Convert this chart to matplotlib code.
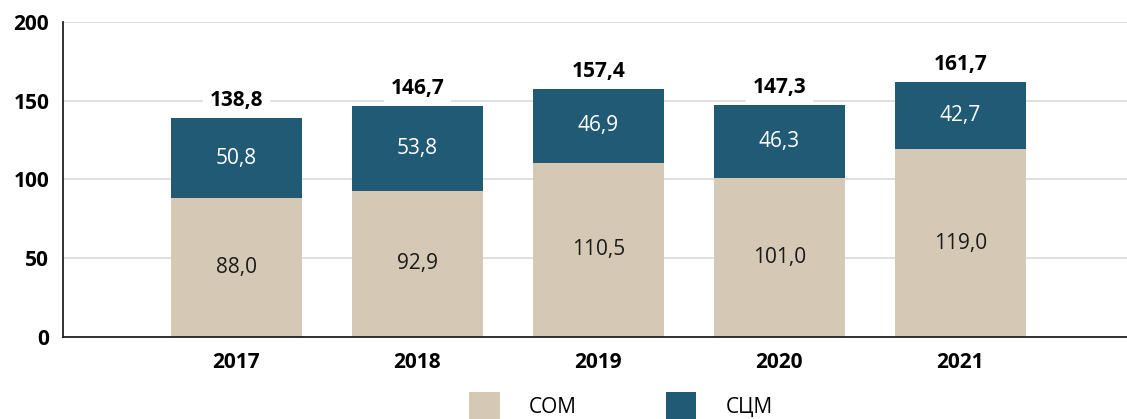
import numpy as np
import matplotlib.pyplot as plt
from matplotlib.patches import Patch

plt.rcParams["font.family"] = ["Open Sans", "DejaVu Sans"]

years = ["2017", "2018", "2019", "2020", "2021"]
som = [88.0, 92.9, 110.5, 101.0, 119.0]
scm = [50.8, 53.8, 46.9, 46.3, 42.7]
totals = [138.8, 146.7, 157.4, 147.3, 161.7]
series_names = ["СОМ", "СЦМ"]

c_som = "#d5c9b6"
c_scm = "#215a74"


def fmt(v):
    return f"{v:.1f}".replace(".", ",")


fig = plt.figure(figsize=(11.27, 4.19), dpi=100)
ax = fig.add_axes([0.056, 0.196, 0.944, 0.752])

x = np.arange(len(years))
w = 0.724
ax.bar(x, som, w, color=c_som, zorder=2)
ax.bar(x, scm, w, bottom=som, color=c_scm, zorder=2)

for i in range(len(years)):
    ax.text(x[i], som[i] / 2, fmt(som[i]), ha="center", va="center",
            fontsize=15, color="#1a1a1a", zorder=3)
    ax.text(x[i], som[i] + scm[i] / 2, fmt(scm[i]), ha="center",
            va="center", fontsize=15, color="white", zorder=3)
    # total label sits under the bars so its white box never covers them
    ax.text(x[i], som[i] + scm[i] + 4.5, fmt(totals[i]), ha="center",
            va="bottom", fontsize=15, fontweight="bold", color="black",
            zorder=1.5,
            bbox=dict(facecolor="white", edgecolor="none", pad=5))

ax.set_xlim(-0.956, 4.92)
ax.set_ylim(0, 200)
ax.set_yticks([0, 50, 100, 150, 200])
ax.set_xticks(x)
ax.set_xticklabels(years, fontsize=15, fontweight="bold")
for lbl in ax.get_yticklabels():
    lbl.set_fontsize(15)
    lbl.set_fontweight("bold")
ax.tick_params(length=0)
ax.tick_params(axis="x", pad=11)
ax.tick_params(axis="y", pad=10)
ax.yaxis.grid(True, color="#d9d9d9", linewidth=1.2, zorder=0)
ax.set_axisbelow(True)
for s in ["top", "right"]:
    ax.spines[s].set_visible(False)
ax.spines["left"].set_color("#222222")
ax.spines["bottom"].set_color("#222222")
ax.spines["left"].set_linewidth(1.3)
ax.spines["bottom"].set_linewidth(1.3)

handles = [Patch(facecolor=c_som, edgecolor="none"),
           Patch(facecolor=c_scm, edgecolor="none")]
fig.legend(handles, series_names, loc="center", bbox_to_anchor=(0.551, 0.03),
           ncol=2, frameon=False, fontsize=15, handlelength=1.45,
           handleheight=1.75, handletextpad=1.4, columnspacing=4.3)

fig.savefig("out.png", dpi=100)
